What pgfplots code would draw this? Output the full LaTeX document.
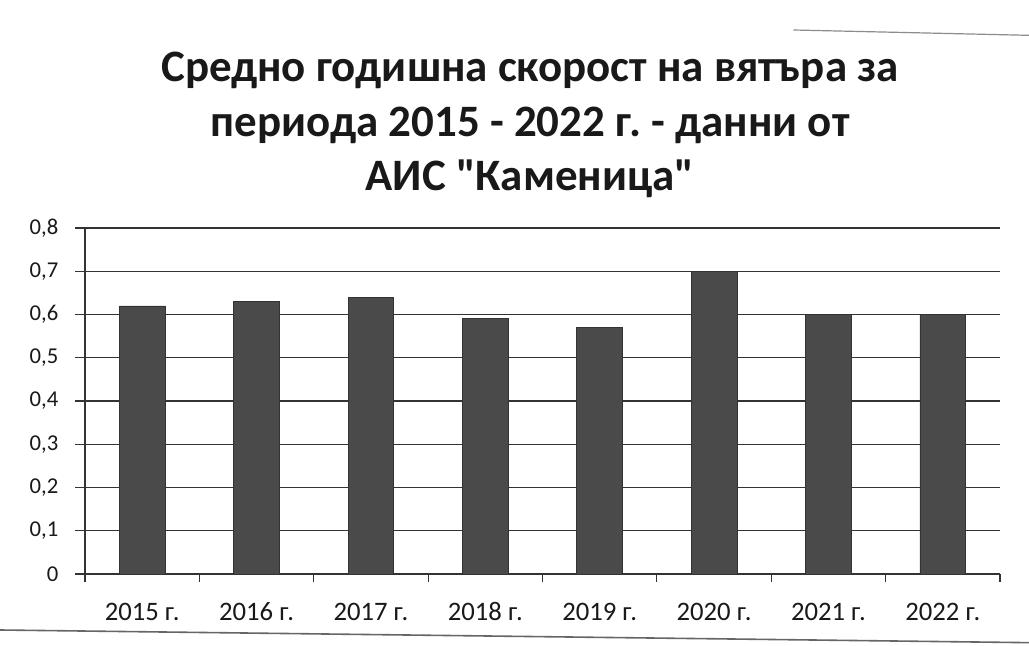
\documentclass[border=0pt]{standalone}
\usepackage{pgfplots}
\pgfplotsset{compat=1.18}
\usepackage{fontspec}
\setmainfont{Carlito}[Ligatures=TeXOff]
\definecolor{barfill}{HTML}{4A4A4A}
\definecolor{gridc}{HTML}{333333}
\begin{document}
\frenchspacing
\begin{tikzpicture}[x=1pt,y=1pt]
\useasboundingbox (0,0) rectangle (771.75,484.5);
\fill[white] (0,0) rectangle (771.75,484.5);
\draw[black!60, line width=1.2pt] (0,12) -- (771.75,2.5);
\draw[black!45, line width=0.9pt] (595,462) -- (771.75,458);
\node[font=\fontsize{33.7}{41}\selectfont\bfseries, align=center, text=black!90] at (397.5,390.75)
  {Средно годишна скорост на вятъра за\\периода 2015 - 2022 г. - данни от\\АИС "Каменица"};
\begin{axis}[
  at={(63.75pt,54pt)}, anchor=south west,
  width=686.25pt, height=259.5pt, scale only axis,
  xmin=-0.5, xmax=7.5, ymin=0, ymax=0.8,
  axis lines=left, axis line style={-, gridc, line width=0.9pt},
  ytick={0,0.1,...,0.8},
  ymajorgrids, grid style={gridc, line width=0.9pt},
  xtick={0,...,7},
  xticklabels={2015 г.,2016 г.,2017 г.,2018 г.,2019 г.,2020 г.,2021 г.,2022 г.},
  minor xtick={-0.5,0.5,...,7.5},
  tick align=outside,
  major x tick style={draw=none},
  minor tick length=6pt, major tick length=7.5pt,
  tick style={gridc, line width=0.9pt},
  xticklabel style={font=\fontsize{20}{22}\selectfont, text=black!90, yshift=-10pt, text height=14pt, text depth=4pt},
  yticklabel style={font=\fontsize{17}{20}\selectfont, text=black!90, xshift=-9pt,
     /pgf/number format/.cd, fixed, precision=1, use comma, assume math mode=true},
  ybar, bar width=0.4,
]
\addplot[fill=barfill, draw=black!80, line width=0.5pt] coordinates {
  (0,0.62) (1,0.63) (2,0.64) (3,0.59) (4,0.57) (5,0.70) (6,0.60) (7,0.60)
};
\end{axis}
\end{tikzpicture}
\end{document}
